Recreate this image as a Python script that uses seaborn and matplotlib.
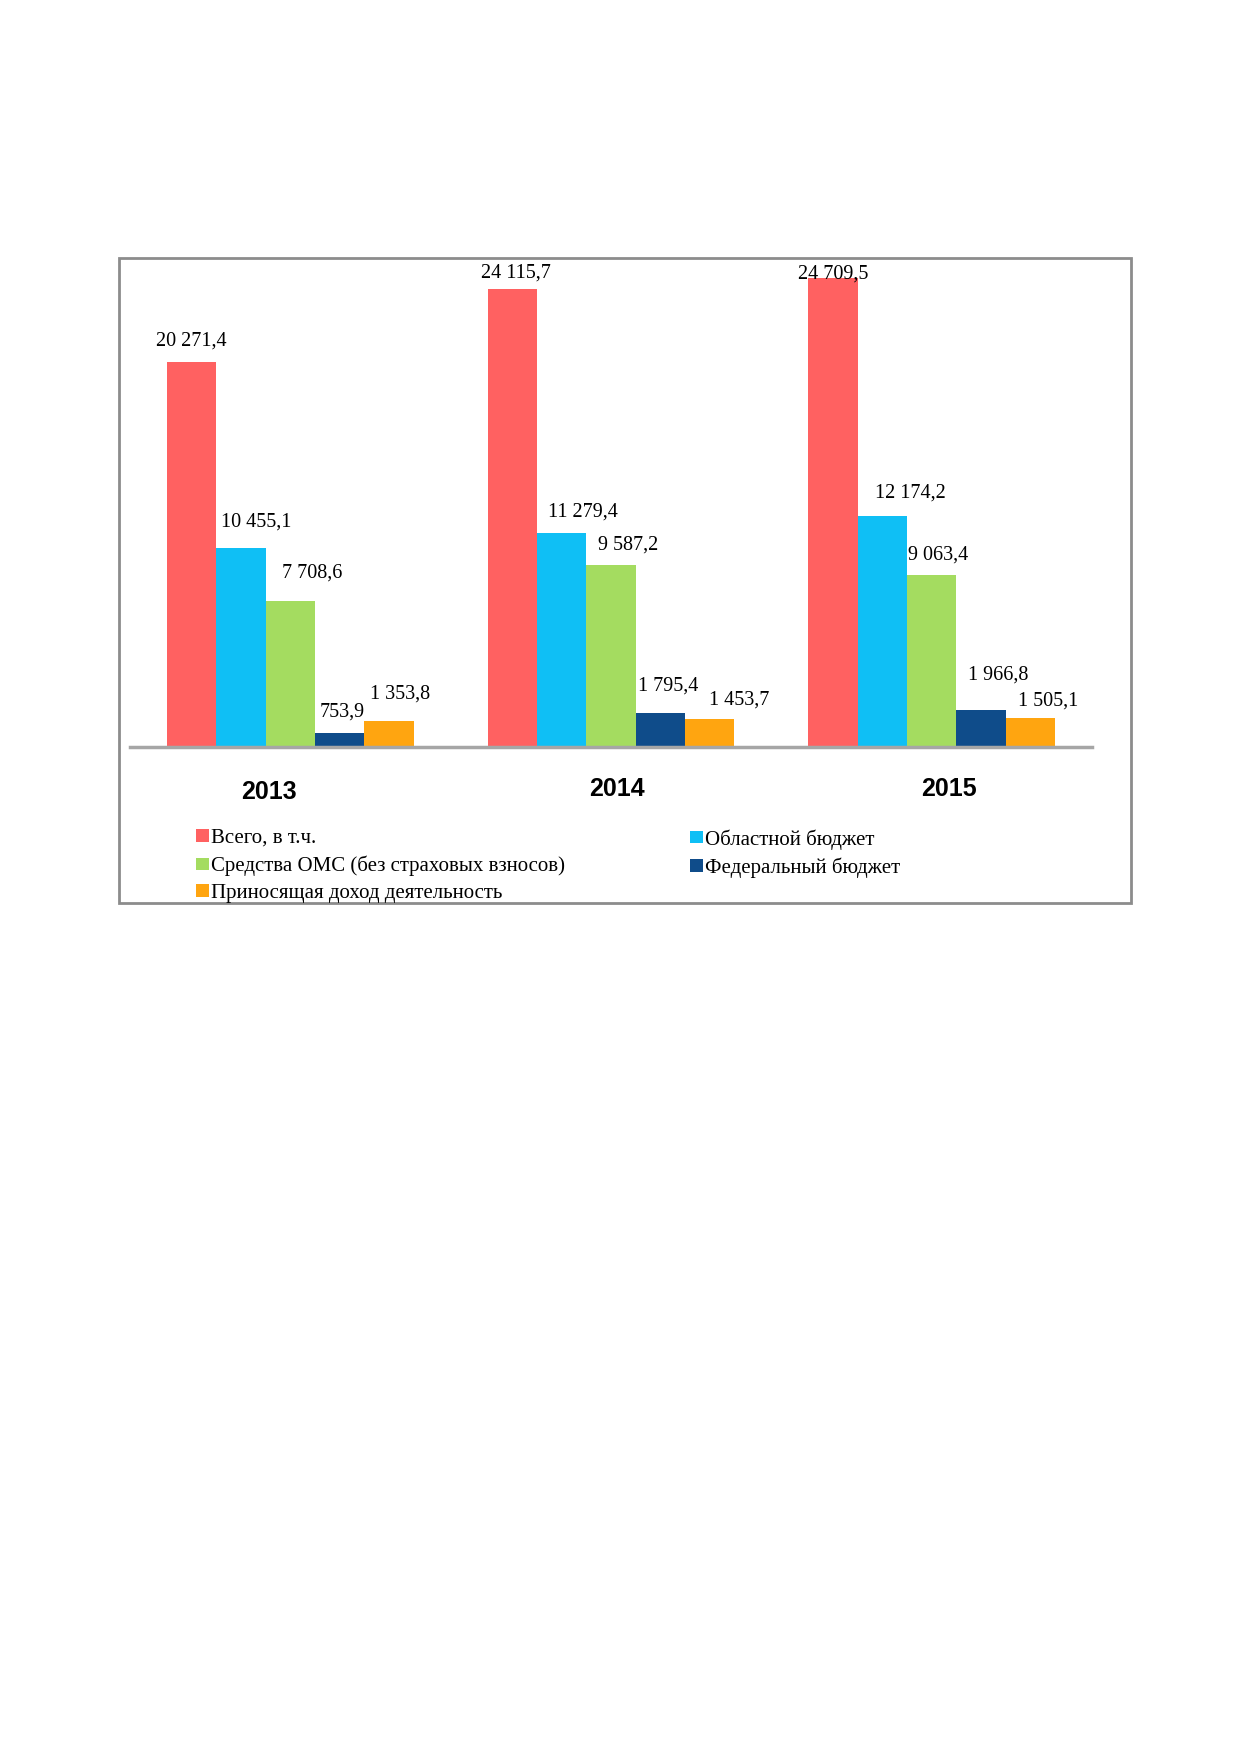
import numpy as np
import pandas as pd
import seaborn as sns
from matplotlib import pyplot as plt
from matplotlib.patches import Patch, Rectangle
from matplotlib.transforms import offset_copy

sns.set_theme(style="white")
plt.rcParams['font.family'] = ['Liberation Serif', 'DejaVu Serif']
plt.rcParams['text.color'] = 'black'
plt.rcParams['xtick.color'] = 'black'

years = ['2013', '2014', '2015']
series = ['Всего, в т.ч.', 'Областной бюджет', 'Средства ОМС (без страховых взносов)',
          'Федеральный бюджет', 'Приносящая доход деятельность']
total = [20271.4, 24115.7, 24709.5]
oblast = [10455.1, 11279.4, 12174.2]
oms = [7708.6, 9587.2, 9063.4]
federal = [753.9, 1795.4, 1966.8]
income = [1353.8, 1453.7, 1505.1]

colors = ['#FF6161', '#0FBFF5', '#A4DC60', '#0F4C8A', '#FFA510']

# смещения подписей (px) относительно верха столбца, как в исходнике
label_nudge = {
    0: [(0, 21), (4, 16), (0, 3)],
    1: [(15, 26), (21, 21), (28, 23)],
    2: [(22, 27), (17, 20), (6, 20)],
    3: [(2, 21), (8, 27), (17, 35)],
    4: [(11, 27), (29, 19), (18, 17)],
}
year_nudge = [(-21, -3), (6, 0), (17, 0)]

df = pd.DataFrame({
    'year': years * 5,
    'series': np.repeat(series, 3),
    'value': total + oblast + oms + federal + income,
})

W, H = 1239, 1752
fig = plt.figure(figsize=(W / 100, H / 100), dpi=100)
ax = fig.add_axes([130 / W, (H - 747) / H, 962 / W, 475 / H])

sns.barplot(data=df, x='year', y='value', hue='series', hue_order=series,
            palette=colors, saturation=1, width=0.77, gap=0, legend=False,
            errorbar=None, ax=ax, linewidth=0)

ax.set_xlim(-0.5, 2.5)
ax.set_ylim(0, 25000)
ax.set_xlabel('')
ax.set_ylabel('')
ax.set_yticks([])
for s in ['top', 'left', 'right']:
    ax.spines[s].set_visible(False)
ax.spines['bottom'].set_color('#A6A6A6')
ax.spines['bottom'].set_linewidth(2.5)
ax.tick_params(axis='x', length=0, pad=21.5)
ax.set_xticks(range(3))
ax.set_xticklabels(years, fontfamily='Liberation Sans', fontweight='bold', fontsize=18)

for lbl, (dx, dy) in zip(ax.get_xticklabels(), year_nudge):
    lbl.set_transform(offset_copy(lbl.get_transform(), fig=fig, x=dx, y=dy, units='dots'))


def fmt(v):
    return f"{v:,.1f}".replace(',', ' ').replace('.', ',')


for i, cont in enumerate(ax.containers):
    for j, bar in enumerate(cont):
        h = bar.get_height()
        dx, dy = label_nudge[i][j]
        ax.annotate(fmt(h), xy=(bar.get_x() + bar.get_width() / 2, h),
                    xytext=(dx, dy), textcoords='offset pixels',
                    ha='center', va='center', fontsize=14.5, color='black',
                    annotation_clip=False)

# рамка области диаграммы
fig.patches.append(Rectangle((119 / W, (H - 903) / H), 1012 / W, 645 / H,
                             transform=fig.transFigure, fill=False,
                             edgecolor='#8C8C8C', linewidth=2))

handles = [Patch(facecolor=c, edgecolor='none') for c in colors]
leg_kw = dict(loc='upper left', frameon=False, fontsize=15, borderpad=0,
              borderaxespad=0, handlelength=0.6, handleheight=0.55,
              handletextpad=0.12, labelspacing=0.37)
leg1 = fig.legend([handles[0], handles[2], handles[4]],
                  [series[0], series[2], series[4]],
                  bbox_to_anchor=(196 / W, (H - 829) / H), **leg_kw)
leg2 = fig.legend([handles[1], handles[3]], [series[1], series[3]],
                  bbox_to_anchor=(690 / W, (H - 829) / H), **leg_kw)

fig.savefig('out.png', dpi=100, facecolor='white')
